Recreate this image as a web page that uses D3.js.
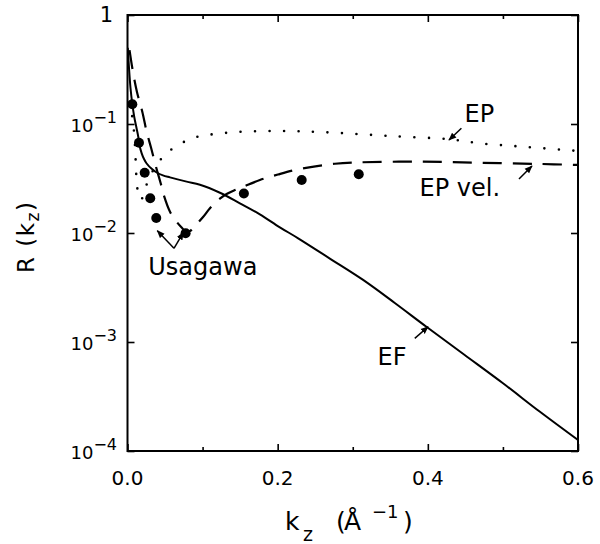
<!DOCTYPE html>
<html><head><meta charset="utf-8">
<script src="https://cdn.jsdelivr.net/npm/d3@7"></script>
<style>body{margin:0;background:#fff} svg{display:block} text{font-family:"DejaVu Sans",sans-serif;fill:#000}</style>
</head><body><svg id="c" width="600" height="544"></svg>
<script>
// ---- data ----
const efK = [0.0004,0.0020,0.0040,0.0064,0.0090,0.0120,0.0144,0.0162,0.0189,0.0220,0.0255,0.0322,0.0389,0.0472,0.0566,0.0788,0.0965,0.1231,0.1497,0.1763,0.2029,0.2273,0.2695,0.3138,0.3560,0.3981,0.4491,0.5001,0.5489,0.6];
const efR = [0.50,0.3265,0.2139,0.1526,0.1159,0.0919,0.0760,0.0628,0.0538,0.0477,0.0434,0.0388,0.0359,0.0338,0.0324,0.0296,0.0277,0.0234,0.01873,0.01485,0.01128,0.00894,0.00583,0.00371,0.00228,0.00138,0.00076,0.000418,0.000230,0.000126];

const epK = [0.003,0.0064,0.0086,0.0100,0.0109,0.0117,0.0133,0.0180,0.0233,0.0300,0.0402,0.0535,0.0756,0.0929,0.1134,0.1528,0.2109,0.2695,0.3493,0.4291,0.4691,0.5223,0.5844,0.6];
const epR = [0.16,0.116,0.0863,0.0628,0.0458,0.0340,0.0253,0.0201,0.0253,0.0333,0.0436,0.0550,0.0688,0.0764,0.0805,0.0850,0.0863,0.0836,0.0776,0.0724,0.0665,0.0622,0.0577,0.0565];

const epvK = [0.0027,0.0073,0.0126,0.0197,0.0255,0.0313,0.0379,0.0442,0.0476,0.0566,0.0645,0.0721,0.0778,0.0832,0.0898,0.1009,0.1098,0.1208,0.1320,0.1430,0.1541,0.1763,0.2003,0.2273,0.2761,0.3094,0.3892,0.4691,0.5489,0.6];
const epvR = [0.477,0.300,0.197,0.1297,0.0850,0.0608,0.0406,0.0286,0.0231,0.01567,0.0129,0.01122,0.01032,0.01043,0.0116,0.0141,0.0169,0.0201,0.0228,0.0248,0.0266,0.0306,0.0344,0.0384,0.0432,0.0445,0.0451,0.0441,0.0430,0.0421];

const usaK = [0.0064,0.0153,0.0229,0.0303,0.0383,0.0774,0.155,0.232,0.308];
const usaR = [0.152,0.0673,0.0357,0.0208,0.01373,0.00994,0.0230,0.0306,0.0346];

const xMajor = [0,0.2,0.4,0.6];
const xMinor = [0.1,0.3,0.5];
const xLabels = ["0.0","0.2","0.4","0.6"];
const yTicks = [1,0.1,0.01,0.001,0.0001];
const yExps = ["","−1","−2","−3","−4"];

// annotations: label, text anchor point (k,R), arrows [tail k,R, tip k,R]
const annLabels = ["EP","EP vel.","EF","Usagawa"];
const annTextK = [0.449,0.389,0.333,0.0277];
const annTextR = [0.104,0.0218,0.000615,0.00412];
const arrowTailK = [0.4447,0.5214,0.3826,0.0619,0.0619];
const arrowTailR = [0.0913,0.0313,0.00108,0.00724,0.00724];
const arrowTipK  = [0.4282,0.5387,0.4003,0.0397,0.0743];
const arrowTipR  = [0.0713,0.0412,0.00138,0.0105,0.0101];

// ---- drawing ----
const svg = d3.select("#c");
const x = d3.scaleLinear().domain([0,0.6]).range([127.5,578]);
const y = d3.scaleLog().domain([1e-4,1]).range([451,15]);

svg.append("defs").append("clipPath").attr("id","clip")
  .append("rect").attr("x",127.5).attr("y",15).attr("width",450.5).attr("height",436);
const defs = svg.select("defs");
defs.append("marker").attr("id","ah").attr("viewBox","0 0 10 10").attr("refX",9).attr("refY",5)
  .attr("markerWidth",8).attr("markerHeight",8).attr("markerUnits","userSpaceOnUse").attr("orient","auto")
  .append("path").attr("d","M0,1 L10,5 L0,9 Z").attr("fill","#000");

function axisStyle(g){ g.select(".domain").remove(); g.selectAll("line").attr("stroke","#000").attr("stroke-width",1.6); }

svg.append("g").attr("transform","translate(0,451)").call(d3.axisBottom(x).tickValues(xMajor).tickSize(-7).tickFormat("")).call(axisStyle);
svg.append("g").attr("transform","translate(0,451)").call(d3.axisBottom(x).tickValues(xMinor).tickSize(-4).tickFormat("")).call(axisStyle);
svg.append("g").attr("transform","translate(0,15)").call(d3.axisTop(x).tickValues(xMajor).tickSize(-7).tickFormat("")).call(axisStyle);
svg.append("g").attr("transform","translate(0,15)").call(d3.axisTop(x).tickValues(xMinor).tickSize(-4).tickFormat("")).call(axisStyle);
svg.append("g").attr("transform","translate(127.5,0)").call(d3.axisLeft(y).tickValues(yTicks).tickSize(-7).tickFormat("")).call(axisStyle);
svg.append("g").attr("transform","translate(578,0)").call(d3.axisRight(y).tickValues(yTicks).tickSize(-7).tickFormat("")).call(axisStyle);

svg.append("rect").attr("x",127.5).attr("y",15).attr("width",450.5).attr("height",436)
  .attr("fill","none").attr("stroke","#000").attr("stroke-width",2);

// x tick labels
svg.selectAll(".xl").data(xMajor).enter().append("text")
  .attr("x",d=>x(d)).attr("y",485).attr("text-anchor","middle").attr("font-size",20)
  .text((d,i)=>xLabels[i]);

// y tick labels
yTicks.forEach((t,i)=>{
  if(yExps[i]===""){
    svg.append("text").attr("x",113).attr("y",y(t)+7).attr("text-anchor","end").attr("font-size",21).text("1");
  } else {
    const tx = svg.append("text").attr("x",117).attr("y",y(t)+8).attr("text-anchor","end");
    tx.append("tspan").attr("font-size",18).text("10");
    tx.append("tspan").attr("font-size",16).attr("dy",-9).text(yExps[i]);
  }
});

// axis titles
const xt = svg.append("text").attr("font-size",25);
xt.append("tspan").attr("x",285).attr("y",530).text("k");
xt.append("tspan").attr("x",303).attr("y",541).attr("font-size",19).text("z");
xt.append("tspan").attr("x",336).attr("y",530).text("(");
xt.append("tspan").attr("x",344).attr("y",530).text("Å");
xt.append("tspan").attr("x",372).attr("y",518).attr("font-size",18).text("−1");
xt.append("tspan").attr("x",403).attr("y",530).text(")");

const yt = svg.append("text").attr("font-size",23).attr("letter-spacing",1.5)
  .attr("transform","translate(34,273) rotate(-90)");
yt.append("tspan").text("R (k");
yt.append("tspan").attr("font-size",17).attr("dy",5).text("z");
yt.append("tspan").attr("dy",-5).text(")");

// curves
const plot = svg.append("g").attr("clip-path","url(#clip)");
const line = d3.line().x(d=>x(d[0])).y(d=>y(d[1])).curve(d3.curveCatmullRom.alpha(0.5));
plot.append("path").attr("d",line(d3.zip(efK,efR))).attr("fill","none").attr("stroke","#000").attr("stroke-width",2);
plot.append("path").attr("d",line(d3.zip(epvK,epvR))).attr("fill","none").attr("stroke","#000").attr("stroke-width",2.2).attr("stroke-dasharray","19,11");
plot.append("path").attr("d",line(d3.zip(epK,epR))).attr("fill","none").attr("stroke","#000").attr("stroke-width",2.6).attr("stroke-linecap","round").attr("stroke-dasharray","0,14.5");

plot.selectAll("circle").data(d3.zip(usaK,usaR)).enter().append("circle")
  .attr("cx",d=>x(d[0])).attr("cy",d=>y(d[1])).attr("r",5).attr("fill","#000");

// annotations
annLabels.forEach((l,i)=>{
  svg.append("text").attr("x",x(annTextK[i])).attr("y",y(annTextR[i])).attr("font-size",24).text(l);
});
arrowTailK.forEach((k,i)=>{
  svg.append("line").attr("x1",x(k)).attr("y1",y(arrowTailR[i])).attr("x2",x(arrowTipK[i])).attr("y2",y(arrowTipR[i]))
    .attr("stroke","#000").attr("stroke-width",1.5).attr("marker-end","url(#ah)");
});
</script></body></html>
